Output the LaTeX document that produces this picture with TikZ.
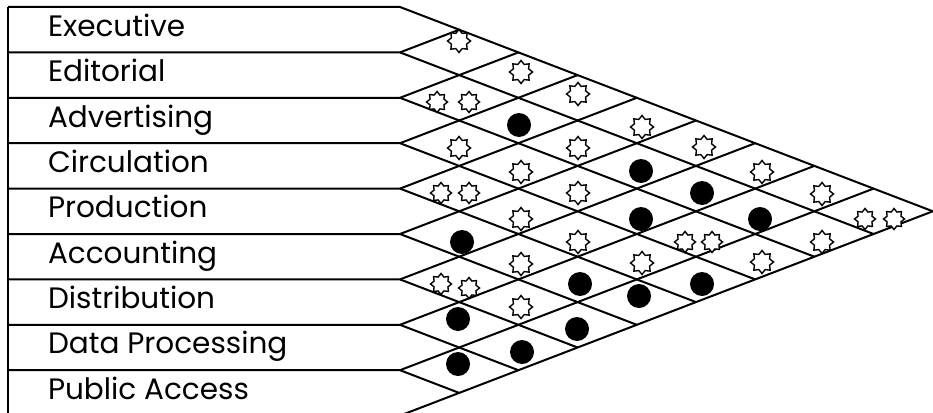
\documentclass[tikz,border=0pt]{standalone}
\usepackage{fontspec}
\setmainfont{Poppins}
\usetikzlibrary{shapes.geometric}
\tikzset{
    chartline/.style = {line width=2pt},
    dept/.style = {anchor=base west, inner sep=0pt, font=\fontsize{29.5}{32}\selectfont},
    starmark/.style = {star, star points=8, star point ratio=1.4, draw, fill=white,
                       line width=1.4pt, minimum size=23pt, inner sep=0pt},
    twinstar/.style = {starmark, minimum size=21pt},
    fulldot/.style = {circle, fill, minimum size=24pt, inner sep=0pt}
    }

\begin{document}
\begin{tikzpicture}[
      x = 1pt, y = -1pt, % one unit per pixel, y going down
      chartline
    ]
    \clip (0,0) rectangle (933,412);

    % row boundaries and the diamond lattice
    \foreach \k in {0,...,9}{
      \draw (8,{7+45.4*\k}) -- (400,{7+45.4*\k}) -- ++({59.2*(9-\k)},{22.7*(9-\k)});
      \draw (400,{7+45.4*\k}) -- ++({59.2*\k},{-22.7*\k});
    }
    \draw (8,7) -- (8,420);

    % departments
    \node[dept] (exec) at (47,36.5) {Executive};
    \node[dept] (edit) at (47,81.8) {Editorial};
    \node[dept] (adv)  at (47,127.2) {Advertising};
    \node[dept] (circ) at (47,172.5) {Circulation};
    \node[dept] (prod) at (47,217.9) {Production};
    \node[dept] (acct) at (47,263.2) {Accounting};
    \node[dept] (dist) at (47,308.6) {Distribution};
    \node[dept] (dp)   at (47,353.9) {Data Processing};
    \node[dept] (pub)  at (47,399.2) {Public Access};

    % single stars
    \node[starmark] (r01) at (459,41) {};
    \node[starmark] (r02) at (521,72) {};
    \node[starmark] (r03) at (578,94) {};
    \node[starmark] (r04) at (642,127) {};
    \node[starmark] (r05) at (704,147) {};
    \node[starmark] (r06) at (762,172) {};
    \node[starmark] (r07) at (822,194) {};
    \node[starmark] (r14) at (578,148) {};
    \node[starmark] (r18) at (822,242) {};
    \node[starmark] (r23) at (459,148) {};
    \node[starmark] (r24) at (521,172) {};
    \node[starmark] (r25) at (578,193) {};
    \node[starmark] (r28) at (762,262) {};
    \node[starmark] (r35) at (521,219) {};
    \node[starmark] (r36) at (578,242) {};
    \node[starmark] (r37) at (642,263) {};
    \node[starmark] (r46) at (521,264) {};
    \node[starmark] (r57) at (521,307) {};

    % double stars
    \node[twinstar] (r08a) at (865,219) {};
    \node[twinstar] (r08b) at (894,219) {};
    \node[twinstar] (r12a) at (437,102) {};
    \node[twinstar] (r12b) at (469,102) {};
    \node[twinstar] (r27a) at (685,242) {};
    \node[twinstar] (r27b) at (712,242) {};
    \node[twinstar] (r34a) at (441,193) {};
    \node[twinstar] (r34b) at (469,193) {};
    \node[twinstar] (r56a) at (441,284) {};
    \node[twinstar] (r56b) at (469,288) {};

    % filled dots
    \node[fulldot] (r13) at (519,125) {};
    \node[fulldot] (r15) at (641,171) {};
    \node[fulldot] (r16) at (702,193) {};
    \node[fulldot] (r17) at (760,219) {};
    \node[fulldot] (r26) at (641,219) {};
    \node[fulldot] (r38) at (702,284) {};
    \node[fulldot] (r45) at (462,242) {};
    \node[fulldot] (r47) at (580,284) {};
    \node[fulldot] (r48) at (639,296) {};
    \node[fulldot] (r58) at (577,329) {};
    \node[fulldot] (r67) at (458,319) {};
    \node[fulldot] (r68) at (522,352) {};
    \node[fulldot] (r78) at (458,364) {};

\end{tikzpicture}
\end{document}
